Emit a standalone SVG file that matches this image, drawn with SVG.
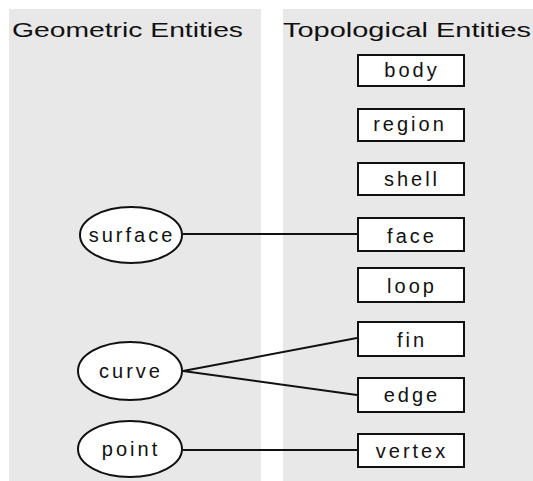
<svg xmlns="http://www.w3.org/2000/svg" width="533" height="481" viewBox="0 0 533 481">
<style>
.panel{fill:#e8e8e8}
.hdr{font-family:"Liberation Sans",Arial,sans-serif;font-size:21px;fill:#111}
.box{fill:#fff;stroke:#111;stroke-width:2}
.ell{fill:#fff;stroke:#111;stroke-width:2}
.lbl{font-family:"Liberation Sans",Arial,sans-serif;font-size:20px;fill:#111;text-anchor:middle;letter-spacing:3px}
.conn{stroke:#111;stroke-width:2;fill:none}
</style>
<rect width="533" height="481" fill="#fff"/>
<rect class="panel" x="9" y="9" width="252" height="472"/>
<rect class="panel" x="283" y="9" width="250" height="472"/>
<text class="hdr" x="12" y="37" textLength="231" lengthAdjust="spacingAndGlyphs">Geometric Entities</text>
<text class="hdr" x="283" y="37" textLength="248" lengthAdjust="spacingAndGlyphs">Topological Entities</text>
<g id="connectors">
<line class="conn" x1="183" y1="234" x2="357" y2="234"/>
<line class="conn" x1="183" y1="371" x2="357" y2="338"/>
<line class="conn" x1="183" y1="371" x2="357" y2="395"/>
<line class="conn" x1="183" y1="450" x2="357" y2="450"/>
</g>
<g id="surface"><ellipse class="ell" cx="131" cy="235" rx="51" ry="28"/><text class="lbl" x="132" y="242">surface</text></g>
<g id="curve"><ellipse class="ell" cx="130" cy="371" rx="52" ry="29"/><text class="lbl" x="131" y="378">curve</text></g>
<g id="point"><ellipse class="ell" cx="130" cy="449" rx="52" ry="28"/><text class="lbl" x="131" y="456">point</text></g>
<g id="body"><rect class="box" x="358" y="55" width="106" height="31"/><text class="lbl" x="412" y="77">body</text></g>
<g id="region"><rect class="box" x="358" y="109" width="106" height="32"/><text class="lbl" x="410" y="131">region</text></g>
<g id="shell"><rect class="box" x="358" y="163" width="106" height="32"/><text class="lbl" x="412" y="186">shell</text></g>
<g id="face"><rect class="box" x="358" y="218" width="106" height="33"/><text class="lbl" x="412" y="243">face</text></g>
<g id="loop"><rect class="box" x="358" y="268" width="106" height="34"/><text class="lbl" x="412" y="293">loop</text></g>
<g id="fin"><rect class="box" x="358" y="322" width="106" height="34"/><text class="lbl" x="412" y="347">fin</text></g>
<g id="edge"><rect class="box" x="358" y="378" width="106" height="34"/><text class="lbl" x="412" y="402">edge</text></g>
<g id="vertex"><rect class="box" x="358" y="434" width="106" height="33"/><text class="lbl" x="412" y="458">vertex</text></g>
</svg>
